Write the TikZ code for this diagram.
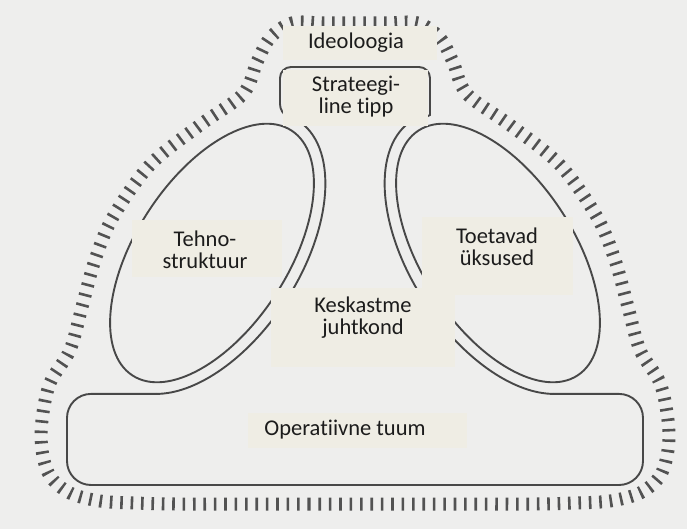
\documentclass[tikz,border=0pt]{standalone}
\usepackage{fontspec}
\setmainfont{Carlito}[Ligatures=NoCommon]
\definecolor{bgfill}{RGB}{238,238,237}
\definecolor{panelfill}{RGB}{239,237,228}
\definecolor{linegray}{RGB}{72,72,72}
\definecolor{tickgray}{RGB}{82,82,82}
\definecolor{inkgray}{RGB}{28,28,28}
\begin{document}
\begin{tikzpicture}[x=1pt,y=-1pt,
  outline/.style={draw=linegray, line width=1.9pt},
  hatch/.style={draw=tickgray, line width=13pt, dash pattern=on 2.6pt off 7.8pt},
  panel/.style={fill=panelfill},
  lbl/.style={text=inkgray, font=\fontsize{22.5}{22}\selectfont, align=center, inner sep=0pt}]
% page background
\fill[bgfill] (0,0) rectangle (687,529);
\useasboundingbox (0,0) rectangle (687,529);

% hatched boundary of the whole organisation
\draw[hatch] plot[smooth cycle, tension=0.55] coordinates {
  (355,504) (310,504) (265,504) (220,504) (175,504) (135,503) (100,501)
  (70,493) (50,476) (42,450) (42,420)
  (50,383) (70,350) (82,307) (95,260) (113,217) (150,165) (200,125)
  (243,94) (257,62) (270,38) (292,23) (323,23)
  (355,23) (387,23) (418,23) (440,38) (453,62) (467,94) (510,125) (560,165)
  (597,217) (615,260) (628,307) (640,350) (660,383) (668,420) (668,450)
  (660,476) (640,493) (610,501) (575,503) (535,504) (490,504) (445,504) (400,504)};

% technostructure and the left edge of the middle line
\begin{scope}[shift={(212,253)}, rotate=57]
  \draw[outline] (0,0) ellipse [x radius=146, y radius=76];
  \draw[outline] (4.8:158 and 88) coordinate (mlTop)
    arc [start angle=4.8, end angle=160.1, x radius=158, y radius=88]
    coordinate (mlBot);
\end{scope}

% support staff and the right edge of the middle line
\begin{scope}[shift={(498,253)}, rotate=-57]
  \draw[outline] (0,0) ellipse [x radius=146, y radius=76];
  \draw[outline] (175.2:158 and 88) coordinate (mrTop)
    arc [start angle=175.2, end angle=19.9, x radius=158, y radius=88]
    coordinate (mrBot);
\end{scope}

% operating core
\coordinate (coreBL) at (67,485);
\coordinate (coreBR) at (643,485);
\draw[outline, rounded corners=24] (mlBot) -- (mlBot -| coreBL) -- (coreBL)
  -- (coreBR) -- (coreBR |- mrBot) -- (mrBot);

% strategic apex
\draw[outline] (mlTop) .. controls (292,121) and (280,115) .. (280,104)
  [rounded corners=11] -- (280,67) -- (430,67) -- (430,104)
  [sharp corners] .. controls (430,115) and (418,121) .. (mrTop);

% label panels
\fill[panel] (283,26) rectangle (437,60);
\fill[panel] (283,70) rectangle (428,126);
\fill[panel] (132,220) rectangle (282,277);
\fill[panel] (422,217) rectangle (573,295);
\fill[panel] (271,288) rectangle (455,367);
\fill[panel] (248,413) rectangle (467,448);

% labels
\node[lbl] (ideo) at (356,43) {Ideoloogia};
\node[lbl] (apex) at (356,97) {Strateegi-\\line tipp};
\node[lbl] (tech) at (205,250) {Tehno-\\struktuur};
\node[lbl] (supp) at (497,247) {Toetavad\\üksused};
\node[lbl] (mid) at (363,318) {Keskastme\\juhtkond};
\node[lbl] (core) at (345,430) {Operatiivne tuum};
\end{tikzpicture}
\end{document}
